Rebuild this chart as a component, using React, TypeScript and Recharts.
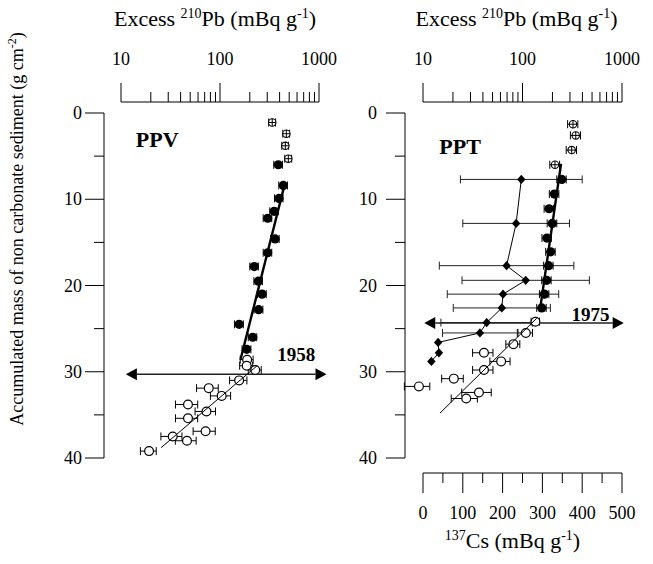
import React from 'react';
import { ScatterChart, Scatter, XAxis, YAxis, ErrorBar, ReferenceLine, ReferenceDot } from 'recharts';

const FONT = '"Liberation Serif", "Times New Roman", Times, serif';

// PPV core: depth = accumulated mass (g cm-2), pb = excess 210Pb (mBq g-1), err = +/- (mBq g-1)
const ppvSurfDepth = [1.1, 2.4, 3.8, 5.3];
const ppvSurfPb = [337, 468, 457, 490];
const ppvSurfErr = [27, 37, 36, 39];

const ppvMidDepth = [6.0, 8.4, 9.9, 11.4, 12.2, 14.6, 16.2, 17.8, 19.5, 21.0, 22.8, 24.5, 26.0, 27.4];
const ppvMidPb = [388, 436, 394, 353, 303, 360, 303, 222, 244, 266, 246, 156, 214, 186];
const ppvMidErr = [39, 44, 39, 35, 30, 36, 30, 22, 24, 27, 25, 16, 21, 19];

const ppvDeepDepth = [28.6, 29.3, 29.8, 31.0, 31.9, 32.8, 33.8, 34.6, 35.4, 36.9, 37.5, 38.0, 39.2];
const ppvDeepPb = [188, 186, 227, 156, 77, 104, 47.5, 73, 47.5, 71.5, 33.3, 46.4, 19.2];
const ppvDeepErr = [28, 28, 34, 31, 19, 24, 12, 17, 12, 18, 8, 11, 3.5];

const ppvFitUpperDepth = [8.1, 28.6];
const ppvFitUpperPb = [454, 161];
const ppvFitLowerDepth = [29.3, 38.8];
const ppvFitLowerPb = [237, 25.4];

// PPT core
const pptSurfDepth = [1.3, 2.6, 4.3, 6.0];
const pptSurfPb = [322, 343, 312, 212];
const pptSurfErr = [38, 40, 37, 24];

const pptMidDepth = [7.7, 9.4, 11.1, 12.8, 14.5, 16.1, 17.7, 19.4, 21.0, 22.6];
const pptMidPb = [248, 209, 185, 199, 176, 192, 183, 175, 166, 156];
const pptMidErr = [27, 23, 20, 22, 19, 21, 20, 19, 18, 17];

const pptDeepDepth = [24.2, 25.5, 26.8, 27.8, 28.8, 29.8, 30.8, 31.7, 32.4, 33.1];
const pptDeepPb = [135, 108, 81, 41, 61, 41, 20.4, 9.1, 36.5, 27.2];
const pptDeepErr = [13, 18, 13, 9.5, 14, 9.5, 5, 2.6, 12, 8];

const pptFitUpperDepth = [5.9, 22.8];
const pptFitUpperPb = [244, 150];
const pptFitLowerDepth = [23.8, 34.8];
const pptFitLowerPb = [139, 14.8];

// 137Cs (mBq g-1) in PPT
const pptCsDepth = [7.7, 12.8, 17.7, 19.4, 21.0, 22.6, 24.3, 25.5, 26.6, 27.8, 28.8];
const pptCs = [247, 234, 210, 258, 201, 198, 160, 143, 38, 40, 21];
const pptCsErr = [153, 134, 169, 160, 140, 122, 115, 94, 0, 0, 0];

// dated horizons
const ppvHorizon = { year: '1958', depth: 30.3, from: 11.2, to: 1190 };
const pptHorizon = { year: '1975', depth: 24.35, from: 10.3, to: 1040 };

// axes
const pbDomain = [10, 1000];
const pbTicks = [10, 20, 30, 40, 50, 60, 70, 80, 90, 100, 200, 300, 400, 500, 600, 700, 800, 900, 1000];
const pbLabels = [10, 100, 1000];
const depthDomain = [0, 40];
const depthTicks = [0, 5, 10, 15, 20, 25, 30, 35, 40];
const depthLabels = [0, 10, 20, 30, 40];
const csDomain = [0, 500];
const csTicks = [0, 50, 100, 150, 200, 250, 300, 350, 400, 450, 500];
const csLabels = [0, 100, 200, 300, 400, 500];

const pts = (depth: number[], val: number[], err?: number[]) =>
  depth.map((y, i) => ({ x: val[i], y, e: err ? err[i] : 0 }));

const inPbRange = (p: any) => p.x - p.e >= pbDomain[0];

const FilledDot = ({ cx, cy }: any) => <circle cx={cx} cy={cy} r={4.6} fill="#000" />;
const OpenDot = ({ cx, cy }: any) => (
  <circle cx={cx} cy={cy} r={4.4} fill="#fff" stroke="#000" strokeWidth={1.2} />
);
const CrossDot = ({ cx, cy }: any) => (
  <g>
    <circle cx={cx} cy={cy} r={3.7} fill="#fff" stroke="#000" strokeWidth={1.1} />
    <line x1={cx - 3.7} x2={cx + 3.7} y1={cy} y2={cy} stroke="#000" strokeWidth={1} />
    <line x1={cx} x2={cx} y1={cy - 3.7} y2={cy + 3.7} stroke="#000" strokeWidth={1} />
  </g>
);
const DiamondDot = ({ cx, cy }: any) => (
  <polygon points={`${cx},${cy - 4.6} ${cx + 4.2},${cy} ${cx},${cy + 4.6} ${cx - 4.2},${cy}`} fill="#000" />
);
const NoDot = () => <g />;

const TopTick = ({ x, y, payload }: any) => {
  const major = pbLabels.includes(payload.value);
  return (
    <g>
      <line x1={x} x2={x} y1={y} y2={y - (major ? 19 : 10)} stroke="#000" strokeWidth={1} />
      {major && (
        <text x={x} y={y - 37} textAnchor="middle" fontSize={18} fontFamily={FONT} fill="#000">
          {payload.value}
        </text>
      )}
    </g>
  );
};

const BottomTick = ({ x, y, payload }: any) => {
  const major = csLabels.includes(payload.value);
  return (
    <g>
      <line x1={x} x2={x} y1={y} y2={y + (major ? 20 : 10)} stroke="#000" strokeWidth={1} />
      {major && (
        <text x={x} y={y + 46} textAnchor="middle" fontSize={18} fontFamily={FONT} fill="#000">
          {payload.value}
        </text>
      )}
    </g>
  );
};

const makeDepthTick = (gap: number) => ({ x, y, payload }: any) => {
  const major = depthLabels.includes(payload.value);
  return (
    <g>
      <line x1={x} x2={x - (major ? 19 : 10)} y1={y} y2={y} stroke="#000" strokeWidth={1} />
      {major && (
        <text x={x - gap} y={y + 6} textAnchor="end" fontSize={18} fontFamily={FONT} fill="#000">
          {payload.value}
        </text>
      )}
    </g>
  );
};

const PbTitle = (shift: number) => (props: any) => {
  const vb = props.viewBox || { x: 0, y: 0, width: 0, height: 0 };
  return (
    <text x={vb.x + vb.width / 2 + shift} y={26} textAnchor="middle" fontSize={22} fontFamily={FONT} fill="#000">
      <tspan>Excess </tspan>
      <tspan fontSize={14} dy={-8}>210</tspan>
      <tspan dy={8}>Pb (mBq g</tspan>
      <tspan fontSize={14} dy={-8}>-1</tspan>
      <tspan dy={8}>)</tspan>
    </text>
  );
};

const CsTitle = (props: any) => {
  const vb = props.viewBox || { x: 0, y: 0, width: 0, height: 0 };
  return (
    <text x={vb.x + vb.width / 2 - 10} y={vb.y + 75} textAnchor="middle" fontSize={22} fontFamily={FONT} fill="#000">
      <tspan fontSize={14} dy={-8}>137</tspan>
      <tspan dy={8}>Cs (mBq g</tspan>
      <tspan fontSize={14} dy={-8}>-1</tspan>
      <tspan dy={8}>)</tspan>
    </text>
  );
};

const DepthTitle = () => (
  <text transform="translate(23, 229) rotate(-90)" textAnchor="middle" fontSize={18} fontFamily={FONT} fill="#000">
    <tspan>Accumulated mass of non carbonate sediment (g cm</tspan>
    <tspan fontSize={12} dy={-7}>-2</tspan>
    <tspan dy={7}>)</tspan>
  </text>
);

const Arrow = (p: any) => {
  const y = p.y1;
  const xl = Math.min(p.x1, p.x2);
  const xr = Math.max(p.x1, p.x2);
  const h = 11;
  const w = 6;
  return (
    <g>
      <line x1={xl + h} x2={xr - h} y1={y} y2={y} stroke="#222" strokeWidth={1.5} />
      <polygon points={`${xl},${y} ${xl + h},${y - w} ${xl + h},${y + w}`} fill="#000" />
      <polygon points={`${xr},${y} ${xr - h},${y - w} ${xr - h},${y + w}`} fill="#000" />
    </g>
  );
};

const ErrSegment = (p: any) => (
  <g stroke="#000" strokeWidth={1}>
    <line x1={p.x1} x2={p.x2} y1={p.y1} y2={p.y2} />
    <line x1={p.x1} x2={p.x1} y1={p.y1 - 4} y2={p.y1 + 4} />
    <line x1={p.x2} x2={p.x2} y1={p.y2 - 4} y2={p.y2 + 4} />
  </g>
);

const tagShape = (text: string, size: number, anchor: string) => (p: any) => (
  <text x={p.cx} y={p.cy} textAnchor={anchor} fontSize={size} fontWeight="bold" fontFamily={FONT} fill="#000">
    {text}
  </text>
);

const errBar = (color = '#000') => (
  <ErrorBar dataKey="e" direction="x" width={4} stroke={color} strokeWidth={1} isAnimationActive={false} />
);

// spacer axes ("aGap...") sort ahead of the real ones, so they sit next to the plot
// and push the drawn axes away from it, as in the original figure
const commonTopAxes = (titleShift: number) => [
  <XAxis key="xg" xAxisId="aGapTop" orientation="top" type="number" domain={[0, 1]} allowDataOverflow height={11} tick={false} tickLine={false} axisLine={false} />,
  <XAxis
    key="pb"
    xAxisId="pb"
    orientation="top"
    type="number"
    scale="log"
    dataKey="x"
    domain={pbDomain}
    ticks={pbTicks}
    interval={0}
    height={102}
    tickSize={0}
    tickMargin={0}
    tickLine={false}
    tick={<TopTick />}
    axisLine={{ stroke: '#000', strokeWidth: 1 }}
    label={{ content: PbTitle(titleShift) }}
  />,
];

const depthAxes = (gapWidth: number, width: number, labelGap: number, withTitle: boolean) => [
  <YAxis key="yg" yAxisId="aGapLeft" type="number" domain={[0, 1]} allowDataOverflow width={gapWidth} tick={false} tickLine={false} axisLine={false} />,
  <YAxis
    key="d"
    yAxisId="depth"
    type="number"
    dataKey="y"
    domain={depthDomain}
    reversed
    ticks={depthTicks}
    interval={0}
    width={width}
    tickSize={0}
    tickMargin={0}
    tickLine={false}
    tick={makeDepthTick(labelGap)}
    axisLine={{ stroke: '#000', strokeWidth: 1 }}
    label={withTitle ? { content: DepthTitle } : undefined}
  />,
];

export default function App() {
  const pptDeep = pts(pptDeepDepth, pptDeepPb, pptDeepErr);
  const pptDeepIn = pptDeep.filter(inPbRange);
  const pptDeepOut = pptDeep.filter((p) => !inPbRange(p));

  return (
    <div style={{ position: 'absolute', left: 0, top: 0, width: 653, height: 564, background: '#fff', overflow: 'hidden', fontFamily: FONT }}>
      <div style={{ position: 'absolute', left: 0, top: 0 }}>
        <ScatterChart width={345} height={470} margin={{ top: 0, right: 26, bottom: 12, left: 0 }}>
          {commonTopAxes(-5)}
          {depthAxes(17, 104, 22, true)}
          <Scatter xAxisId="pb" yAxisId="depth" data={pts(ppvSurfDepth, ppvSurfPb, ppvSurfErr)} shape={CrossDot} isAnimationActive={false}>
            {errBar()}
          </Scatter>
          <Scatter xAxisId="pb" yAxisId="depth" data={pts(ppvMidDepth, ppvMidPb, ppvMidErr)} shape={FilledDot} isAnimationActive={false}>
            {errBar()}
          </Scatter>
          <Scatter xAxisId="pb" yAxisId="depth" data={pts(ppvDeepDepth, ppvDeepPb, ppvDeepErr)} shape={OpenDot} isAnimationActive={false}>
            {errBar()}
          </Scatter>
          <Scatter xAxisId="pb" yAxisId="depth" data={pts(ppvFitUpperDepth, ppvFitUpperPb)} line={{ stroke: '#000', strokeWidth: 2.4 }} shape={NoDot} isAnimationActive={false} />
          <Scatter xAxisId="pb" yAxisId="depth" data={pts(ppvFitLowerDepth, ppvFitLowerPb)} line={{ stroke: '#000', strokeWidth: 1 }} shape={NoDot} isAnimationActive={false} />
          <ReferenceLine
            xAxisId="pb"
            yAxisId="depth"
            ifOverflow="visible"
            segment={[{ x: ppvHorizon.from, y: ppvHorizon.depth }, { x: ppvHorizon.to, y: ppvHorizon.depth }]}
            shape={Arrow}
          />
          <ReferenceDot xAxisId="pb" yAxisId="depth" x={590} y={28.8} r={0} shape={tagShape(ppvHorizon.year, 19, 'middle')} />
          <ReferenceDot xAxisId="pb" yAxisId="depth" x={14.1} y={3.9} r={0} shape={tagShape('PPV', 22, 'start')} />
        </ScatterChart>
      </div>

      <div style={{ position: 'absolute', left: 330, top: 0 }}>
        <ScatterChart width={323} height={564} margin={{ top: 0, right: 31, bottom: 0, left: 0 }}>
          {commonTopAxes(-6)}
          <XAxis xAxisId="aGapBottom" orientation="bottom" type="number" domain={[0, 1]} allowDataOverflow height={15} tick={false} tickLine={false} axisLine={false} />
          <XAxis
            xAxisId="cs"
            orientation="bottom"
            type="number"
            dataKey="x"
            domain={csDomain}
            ticks={csTicks}
            interval={0}
            height={91}
            tickSize={0}
            tickMargin={0}
            tickLine={false}
            tick={<BottomTick />}
            axisLine={{ stroke: '#000', strokeWidth: 1 }}
            label={{ content: CsTitle }}
          />
          {depthAxes(18, 75, 28, false)}
          <Scatter xAxisId="cs" yAxisId="depth" data={pts(pptCsDepth, pptCs, pptCsErr)} line={{ stroke: '#000', strokeWidth: 1 }} shape={DiamondDot} isAnimationActive={false}>
            {errBar('#222')}
          </Scatter>
          <Scatter xAxisId="pb" yAxisId="depth" data={pts(pptSurfDepth, pptSurfPb, pptSurfErr)} shape={CrossDot} isAnimationActive={false}>
            {errBar()}
          </Scatter>
          <Scatter xAxisId="pb" yAxisId="depth" data={pts(pptMidDepth, pptMidPb, pptMidErr)} shape={FilledDot} isAnimationActive={false}>
            {errBar()}
          </Scatter>
          <Scatter xAxisId="pb" yAxisId="depth" data={pptDeepIn} shape={OpenDot} isAnimationActive={false}>
            {errBar()}
          </Scatter>
          {pptDeepOut.map((p, i) => (
            <ReferenceLine
              key={`oe${i}`}
              xAxisId="pb"
              yAxisId="depth"
              ifOverflow="visible"
              segment={[{ x: p.x - p.e, y: p.y }, { x: p.x + p.e, y: p.y }]}
              shape={ErrSegment}
            />
          ))}
          {pptDeepOut.map((p, i) => (
            <ReferenceDot key={`od${i}`} xAxisId="pb" yAxisId="depth" x={p.x} y={p.y} r={4.4} ifOverflow="visible" shape={OpenDot} />
          ))}
          <Scatter xAxisId="pb" yAxisId="depth" data={pts(pptFitUpperDepth, pptFitUpperPb)} line={{ stroke: '#000', strokeWidth: 2.4 }} shape={NoDot} isAnimationActive={false} />
          <Scatter xAxisId="pb" yAxisId="depth" data={pts(pptFitLowerDepth, pptFitLowerPb)} line={{ stroke: '#000', strokeWidth: 1 }} shape={NoDot} isAnimationActive={false} />
          <ReferenceLine
            xAxisId="pb"
            yAxisId="depth"
            ifOverflow="visible"
            segment={[{ x: pptHorizon.from, y: pptHorizon.depth }, { x: pptHorizon.to, y: pptHorizon.depth }]}
            shape={Arrow}
          />
          <ReferenceDot xAxisId="pb" yAxisId="depth" x={482} y={24.07} r={0} shape={tagShape(pptHorizon.year, 19, 'middle')} />
          <ReferenceDot xAxisId="pb" yAxisId="depth" x={14.6} y={4.8} r={0} shape={tagShape('PPT', 22, 'start')} />
        </ScatterChart>
      </div>
    </div>
  );
}
